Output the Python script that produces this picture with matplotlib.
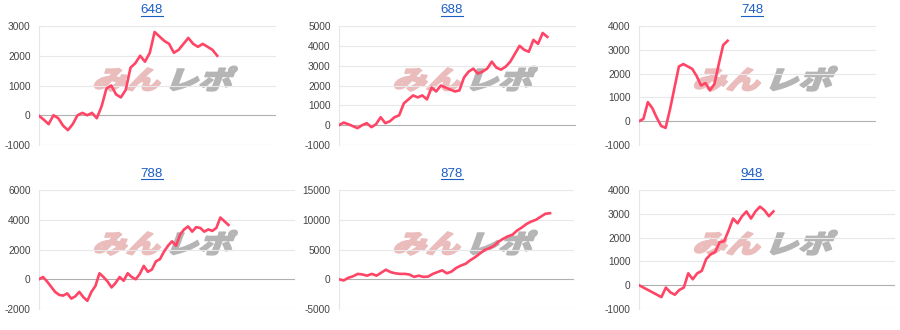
import matplotlib
matplotlib.use("Agg")
import matplotlib.pyplot as plt
from matplotlib.textpath import TextPath
from matplotlib.patches import PathPatch
from matplotlib.font_manager import FontProperties
from matplotlib.transforms import Affine2D
from matplotlib.lines import Line2D

titles = ["648", "688", "748", "788", "878", "948"]

s648 = [-20, -150, -300, 0, -100, -350, -500, -300, 0, 80, 0, 80, -100, 300,
        900, 1000, 700, 600, 850, 1600, 1750, 2000, 1800, 2100, 2800, 2650,
        2500, 2400, 2100, 2200, 2400, 2600, 2400, 2300, 2400, 2300, 2200, 2000]
s688 = [0, 130, 50, -50, -150, 0, 100, -100, 50, 400, 100, 200, 400, 500,
        1100, 1300, 1500, 1400, 1500, 1300, 1900, 1700, 2000, 1900, 1800, 1700,
        1750, 2400, 2700, 2850, 2600, 2700, 2850, 3200, 2900, 2800, 2950, 3200,
        3600, 4000, 3800, 3700, 4300, 4100, 4650, 4450]
s748 = [0, 100, 800, 550, 150, -200, -280, 500, 1400, 2300, 2400, 2300, 2200,
        1900, 1500, 1600, 1300, 1550, 2400, 3200, 3380]
s788 = [0, 150, -150, -500, -850, -1050, -1100, -950, -1300, -1150, -850,
        -1200, -1450, -850, -450, 400, 150, -150, -550, -250, 150, -100, 400,
        150, 0, 350, 900, 500, 650, 1200, 1350, 1850, 2250, 2550, 2250, 3000,
        3350, 3550, 3200, 3500, 3450, 3200, 3350, 3250, 3450, 4150, 3900, 3650]
s878 = [0, -200, 250, 500, 900, 800, 600, 900, 600, 1100, 1600, 1200, 1000,
        900, 900, 800, 400, 600, 400, 450, 900, 1200, 1500, 1000, 1300, 1900,
        2300, 2600, 3200, 3700, 4300, 4900, 5200, 5600, 6300, 6800, 7200, 7500,
        8200, 8700, 9300, 9700, 10000, 10500, 11000, 11100]
s948 = [0, -100, -200, -300, -400, -500, -100, -300, -400, -200, -100, 500,
        250, 500, 600, 1100, 1300, 1400, 1800, 1850, 2300, 2800, 2600, 2900,
        3100, 2800, 3100, 3300, 3150, 2900, 3100]
series = [s648, s688, s748, s788, s878, s948]

ylims = [(-1000, 3000), (-1000, 5000), (-1000, 4000),
         (-2000, 6000), (-5000, 15000), (-1000, 4000)]
ysteps = [1000, 1000, 1000, 2000, 5000, 1000]

# how far along the x axis each line reaches
reach = [0.752, 0.879, 0.374, 0.740, 0.898, 0.525]

W, H = 900, 330
# axes boxes in pixels: left, top, right, bottom
boxes = [(39, 26, 276, 145), (339, 26, 576, 145), (639, 26, 876, 145),
         (39, 190, 295, 309), (339, 190, 574, 309), (639, 190, 895, 309)]

line_color = "#ff4466"
font = "Liberation Sans"

fig = plt.figure(figsize=(W / 100, H / 100), dpi=100)
fig.patch.set_facecolor("white")

wm_prop = FontProperties(family="Noto Sans CJK JP", weight="heavy")
title_objs = []


def logo_part(text, x0, y0, color):
    p = TextPath((0, 0), text, size=30, prop=wm_prop)
    tr = Affine2D().skew_deg(16, 0).scale(1.12, 0.86).translate(x0, y0) + \
        Affine2D().scale(1 / fig.dpi) + fig.dpi_scale_trans
    fig.add_artist(PathPatch(p, transform=tr, facecolor=color, edgecolor=color,
                             lw=1.3, joinstyle="round", zorder=-1))


for i, (vals, box) in enumerate(zip(series, boxes)):
    l, t, r, b = box
    ax = fig.add_axes([l / W, (H - b) / H, (r - l) / W, (b - t) / H])
    ax.set_facecolor("none")
    x = list(range(len(vals)))
    ax.plot(x, vals, color=line_color, lw=1.9, zorder=3)
    ax.set_xlim(0, (len(vals) - 1) / reach[i])
    lo, hi = ylims[i]
    ax.set_ylim(lo, hi)
    ticks = list(range(lo, hi + 1, ysteps[i]))
    ax.set_yticks(ticks)
    ax.set_yticklabels([str(v) for v in ticks], fontsize=7.3, color="#444444",
                       family=font)
    ax.tick_params(axis="y", length=0, pad=6)
    ax.set_xticks([])
    for v in ticks:
        if v == 0:
            ax.axhline(0, color="#b0b0b0", lw=0.8, zorder=2)
        elif v == lo:
            ax.axhline(v, color="#d6d6d6", lw=0.8, zorder=1)
        else:
            ax.axhline(v, color="#e8e8e8", lw=0.8, zorder=1)
    for s in ["top", "right", "bottom"]:
        ax.spines[s].set_visible(False)
    ax.spines["left"].set_color("#e6e6e6")
    ax.spines["left"].set_linewidth(0.8)

    # panel origin
    px = (i % 3) * 300
    py = 0 if i < 3 else 160
    ty = 10 if i < 3 else 14
    tt = fig.text((px + 152) / W, 1 - (py + ty) / H, titles[i], ha="center",
                  va="center", fontsize=9.6, color="#1a5fc4", family=font)
    title_objs.append(tt)

    # watermark logo
    wy = H - (t + 63)
    logo_part("みん", px + 92, wy, "#ebbcbc")
    logo_part("レポ", px + 164, wy, "#b5b5b5")

# underline the titles like links
fig.canvas.draw()
inv = fig.transFigure.inverted()
for tt in title_objs:
    bb = tt.get_window_extent()
    x0, y0 = inv.transform((bb.x0, bb.y0 + 0.5))
    x1, _ = inv.transform((bb.x1, bb.y0 + 0.5))
    fig.add_artist(Line2D([x0, x1], [y0, y0], color="#1a5fc4", lw=0.8,
                          transform=fig.transFigure))

fig.savefig("out.png", dpi=100)
